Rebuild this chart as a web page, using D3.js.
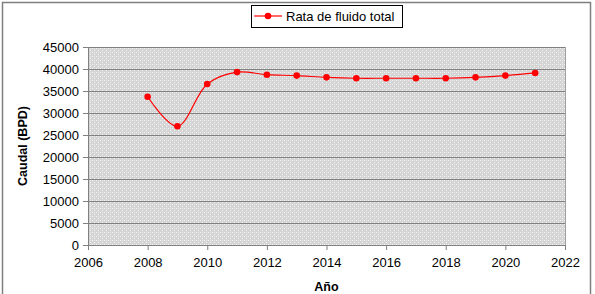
<!DOCTYPE html>
<html>
<head>
<meta charset="utf-8">
<script src="https://cdn.jsdelivr.net/npm/d3@7"></script>
<style>
body { margin: 0; background: #fff; }
svg { display: block; font-family: "Liberation Sans", Arial, sans-serif; }
</style>
</head>
<body>
<svg id="chart" width="595" height="294"></svg>
<script>
// datos
const years = [2008, 2009, 2010, 2011, 2012, 2013, 2014, 2015, 2016, 2017, 2018, 2019, 2020, 2021];
const caudal = [33700, 27000, 36600, 39300, 38700, 38500, 38100, 37900, 37900, 37900, 37900, 38100, 38500, 39100];
const xTicks = [2006, 2008, 2010, 2012, 2014, 2016, 2018, 2020, 2022];
const yTicks = [0, 5000, 10000, 15000, 20000, 25000, 30000, 35000, 40000, 45000];
const seriesName = "Rata de fluido total";

const svg = d3.select("#chart");
const plot = { left: 88, right: 565, top: 47, bottom: 245 };
const red = "#ff0000";

// marco exterior
svg.append("rect")
    .attr("x", 2.5).attr("y", 2.5)
    .attr("width", 588).attr("height", 300)
    .attr("fill", "none")
    .attr("stroke", "#7f7f7f")
    .attr("stroke-width", 1.5);

// trama de fondo
const defs = svg.append("defs");
const pat = defs.append("pattern")
    .attr("id", "trama")
    .attr("width", 4).attr("height", 4)
    .attr("patternUnits", "userSpaceOnUse");
pat.append("rect").attr("width", 4).attr("height", 4).attr("fill", "#d4d4d4");
pat.append("rect").attr("x", 0).attr("y", 0).attr("width", 1).attr("height", 1).attr("fill", "#f4f4f4");
pat.append("rect").attr("x", 2).attr("y", 2).attr("width", 1).attr("height", 1).attr("fill", "#f4f4f4");
pat.append("rect").attr("x", 2).attr("y", 0).attr("width", 1).attr("height", 1).attr("fill", "#e6e6e6");

const x = d3.scaleLinear().domain([2006, 2022]).range([plot.left, plot.right]);
const y = d3.scaleLinear().domain([0, 45000]).range([plot.bottom, plot.top]);

svg.append("rect")
    .attr("x", plot.left).attr("y", plot.top)
    .attr("width", plot.right - plot.left)
    .attr("height", plot.bottom - plot.top)
    .attr("fill", "url(#trama)");

// lineas de cuadricula
svg.append("g")
    .selectAll("line")
    .data(yTicks.filter(d => d > 0))
    .join("line")
    .attr("x1", plot.left).attr("x2", plot.right)
    .attr("y1", d => Math.round(y(d)) + 0.5)
    .attr("y2", d => Math.round(y(d)) + 0.5)
    .attr("stroke", "#808080");

// borde derecho del area de trazado
svg.append("line")
    .attr("x1", plot.right + 0.5).attr("x2", plot.right + 0.5)
    .attr("y1", plot.top).attr("y2", plot.bottom)
    .attr("stroke", "#a0a0a0");

// ejes
const yAxis = svg.append("g")
    .attr("transform", `translate(${plot.left},0)`)
    .call(d3.axisLeft(y).tickValues(yTicks).tickSize(5).tickPadding(4).tickFormat(d3.format("d")));
const xAxis = svg.append("g")
    .attr("transform", `translate(0,${plot.bottom})`)
    .call(d3.axisBottom(x).tickValues(xTicks).tickSize(5).tickPadding(8).tickFormat(d3.format("d")));

[yAxis, xAxis].forEach(ax => {
    ax.select(".domain").attr("stroke", "#808080");
    ax.selectAll(".tick line").attr("stroke", "#808080");
    ax.selectAll(".tick text")
        .attr("fill", "#000")
        .style("font-size", "13px")
        .style("font-family", "'Liberation Sans', Arial, sans-serif");
});

// titulos de ejes
svg.append("text")
    .attr("transform", "translate(27,146) rotate(-90)")
    .attr("text-anchor", "middle")
    .style("font-size", "12.5px")
    .style("font-weight", "bold")
    .text("Caudal (BPD)");

svg.append("text")
    .attr("x", (plot.left + plot.right) / 2)
    .attr("y", 291)
    .attr("text-anchor", "middle")
    .style("font-size", "12.5px")
    .style("font-weight", "bold")
    .text("Año");

// serie
const data = years.map((yr, i) => ({ yr: yr, v: caudal[i] }));
const line = d3.line()
    .x(d => x(d.yr))
    .y(d => y(d.v))
    .curve(d3.curveCatmullRom.alpha(0.5));

svg.append("path")
    .datum(data)
    .attr("d", line)
    .attr("fill", "none")
    .attr("stroke", red)
    .attr("stroke-width", 1.2);

svg.append("g")
    .selectAll("circle")
    .data(data)
    .join("circle")
    .attr("cx", d => x(d.yr))
    .attr("cy", d => y(d.v))
    .attr("r", 3.3)
    .attr("fill", red);

// leyenda
const legend = svg.append("g").attr("transform", "translate(251,5)");
legend.append("rect")
    .attr("x", 0.5).attr("y", 0.5)
    .attr("width", 151).attr("height", 22)
    .attr("fill", "#fff")
    .attr("stroke", "#000");
legend.append("line")
    .attr("x1", 3).attr("x2", 31)
    .attr("y1", 11).attr("y2", 11)
    .attr("stroke", red)
    .attr("stroke-width", 1.2);
legend.append("circle")
    .attr("cx", 17).attr("cy", 11).attr("r", 3.3)
    .attr("fill", red);
legend.append("text")
    .attr("x", 35).attr("y", 15.5)
    .style("font-size", "13px")
    .text(seriesName);
</script>
</body>
</html>
